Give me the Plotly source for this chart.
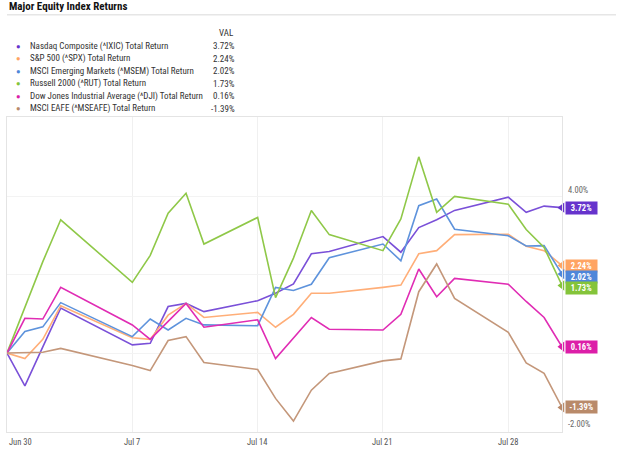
import plotly.graph_objects as go

# ---------------- data ----------------
dates = ["2025-06-30", "2025-07-01", "2025-07-02", "2025-07-03", "2025-07-07",
         "2025-07-08", "2025-07-09", "2025-07-10", "2025-07-11", "2025-07-14",
         "2025-07-15", "2025-07-16", "2025-07-17", "2025-07-18", "2025-07-21",
         "2025-07-22", "2025-07-23", "2025-07-24", "2025-07-25", "2025-07-28",
         "2025-07-29", "2025-07-30", "2025-07-31"]

series_names = ["Nasdaq Composite (^IXIC) Total Return",
                "S&P 500 (^SPX) Total Return",
                "MSCI Emerging Markets (^MSEM) Total Return",
                "Russell 2000 (^RUT) Total Return",
                "Dow Jones Industrial Average (^DJI) Total Return",
                "MSCI EAFE (^MSEAFE) Total Return"]

nasdaq = [0, -0.84, 0.16, 1.15, 0.21, 0.25, 1.19, 1.27, 1.06, 1.34, 1.53, 1.77,
          2.54, 2.60, 2.98, 2.58, 3.21, 3.41, 3.65, 3.99, 3.60, 3.76, 3.72]
sp500 = [0, -0.14, 0.35, 1.21, 0.39, 0.35, 0.97, 1.27, 0.91, 1.04, 0.66, 0.99,
         1.53, 1.53, 1.68, 1.74, 2.54, 2.62, 3.03, 3.04, 2.73, 2.62, 2.24]
msem = [0, 0.55, 0.67, 1.29, 0.42, 0.87, 0.59, 0.89, 0.72, 0.70, 1.68, 1.60,
        1.76, 2.44, 2.79, 2.36, 3.77, 3.94, 3.17, 3.00, 2.74, 2.75, 2.02]
russell = [0, 1.15, 2.34, 3.41, 1.81, 2.50, 3.58, 4.09, 2.79, 3.47, 1.42, 2.43,
           3.65, 3.03, 2.62, 3.43, 5.02, 3.60, 4.01, 3.81, 3.16, 2.70, 1.73]
dow = [0, 0.89, 0.87, 1.68, 0.72, 0.35, 0.81, 1.27, 0.66, 0.85, -0.14, 0.39,
       0.91, 0.61, 0.59, 0.99, 2.15, 1.44, 1.91, 1.76, 1.32, 0.91, 0.16]
eafe = [0, 0.01, 0.02, 0.12, -0.32, -0.45, 0.32, 0.42, -0.24, -0.42, -1.16, -1.74,
        -0.95, -0.52, -0.20, -0.15, 1.57, 2.28, 1.40, 0.53, -0.25, -0.52, -1.39]

xtick_vals = ["2025-06-30", "2025-07-07", "2025-07-14", "2025-07-21", "2025-07-28"]
xtick_text = ["Jun 30", "Jul 7", "Jul 14", "Jul 21", "Jul 28"]
ytick_vals = [4, -2]
ytick_text = ["4.00%", "-2.00%"]
grid_y = [-2, 0, 2, 4]

all_series = [nasdaq, sp500, msem, russell, dow, eafe]

# ---------------- style ----------------
line_colors = ["#7a50d8", "#ffae78", "#5e93dc", "#8fc848", "#e02cb4", "#c4977a"]
tag_colors = ["#6633cc", "#ffa463", "#4f86d9", "#84c43a", "#dc1ea8", "#b98a6a"]
tag_yshift = [0, 0, -3, -3, 0, 0]
FONT = "Roboto Condensed, Liberation Sans Narrow, Roboto, sans-serif"

W, H = 624, 449
L, R, T, B = 7, 62, 117, 17
PW, PH = W - L - R, H - T - B


def px(xp):
    return (xp - L) / PW


def py(yp):
    return (H - B - yp) / PH


fig = go.Figure()

for name, vals, col in zip(series_names, all_series, line_colors):
    fig.add_trace(go.Scatter(x=dates, y=vals, mode="lines", name=name,
                             line=dict(color=col, width=1.6), hoverinfo="skip"))

# tag pointers
for vals, col in zip(all_series, tag_colors):
    fig.add_trace(go.Scatter(x=[dates[-1]], y=[vals[-1]], mode="markers",
                             marker=dict(symbol="triangle-left", size=9, color=col),
                             cliponaxis=False, hoverinfo="skip", showlegend=False))

annotations = []

# title
annotations.append(dict(text="<b>Major Equity Index Returns</b>", xref="paper", yref="paper",
                        x=px(7), y=py(7), xanchor="left", yanchor="middle", showarrow=False,
                        font=dict(family=FONT, size=11, color="#111111")))

# legend table
annotations.append(dict(text="VAL", xref="paper", yref="paper", x=px(236), y=py(33),
                        xanchor="right", yanchor="middle", showarrow=False,
                        font=dict(family=FONT, size=9, color="#333333")))
for i, (name, vals, col) in enumerate(zip(series_names, all_series, line_colors)):
    yy = py(46.5 + 12.45 * i)
    annotations.append(dict(text="●", xref="paper", yref="paper", x=px(18.5), y=yy,
                            xanchor="center", yanchor="middle", showarrow=False,
                            font=dict(family=FONT, size=7.5, color=tag_colors[i])))
    annotations.append(dict(text=name, xref="paper", yref="paper", x=px(28), y=yy,
                            xanchor="left", yanchor="middle", showarrow=False,
                            font=dict(family=FONT, size=9, color="#333333")))
    annotations.append(dict(text=f"{vals[-1]:.2f}%", xref="paper", yref="paper", x=px(236.5), y=yy,
                            xanchor="right", yanchor="middle", showarrow=False,
                            font=dict(family=FONT, size=9, color="#333333")))

# end-of-line tags
for vals, col, ys in zip(all_series, tag_colors, tag_yshift):
    annotations.append(dict(text=f"<b>{vals[-1]:.2f}%</b>", x=dates[-1], y=vals[-1],
                            xref="x", yref="y", xanchor="left", yanchor="middle",
                            xshift=3, yshift=ys, showarrow=False, bgcolor=col,
                            borderpad=1, width=29, align="center",
                            font=dict(family=FONT, size=8.5, color="white")))

# y tick labels (above gridline)
for v, t in zip(ytick_vals, ytick_text):
    annotations.append(dict(text=t, x=1, y=v, xref="paper", yref="y", xanchor="left",
                            yanchor="bottom", xshift=4, showarrow=False,
                            font=dict(family=FONT, size=8.5, color="#666666")))

# x tick labels
for i, (v, t) in enumerate(zip(xtick_vals, xtick_text)):
    annotations.append(dict(text=t, x=v, y=0, xref="x", yref="paper",
                            xanchor="left" if i == 0 else "center", yanchor="top",
                            yshift=-3, showarrow=False,
                            font=dict(family=FONT, size=8.5, color="#555555")))

shapes = [dict(type="line", xref="paper", yref="paper", x0=0, x1=px(616),
               y0=py(14.7), y1=py(14.7), line=dict(color="#e6e6e6", width=1.5))]

fig.update_layout(
    width=W, height=H,
    margin=dict(l=L, r=R, t=T, b=B),
    paper_bgcolor="white", plot_bgcolor="white",
    showlegend=False,
    annotations=annotations,
    shapes=shapes,
    xaxis=dict(type="date", range=[dates[0], dates[-1]], tickvals=xtick_vals[1:],
               showticklabels=False, showgrid=True, gridcolor="#f0f0f0", gridwidth=1,
               zeroline=False, showline=True, linecolor="#e4e4e4", linewidth=1, mirror=True,
               ticks=""),
    yaxis=dict(range=[-2.02, 6.04], tickvals=grid_y, showticklabels=False,
               showgrid=True, gridcolor="#f3f3f3", gridwidth=1, zeroline=False,
               showline=True, linecolor="#e4e4e4", linewidth=1, mirror=True, ticks="",
               side="right"),
)

fig.write_html("out.html", config={"displayModeBar": False},
               post_script="document.body.style.margin='0';")
